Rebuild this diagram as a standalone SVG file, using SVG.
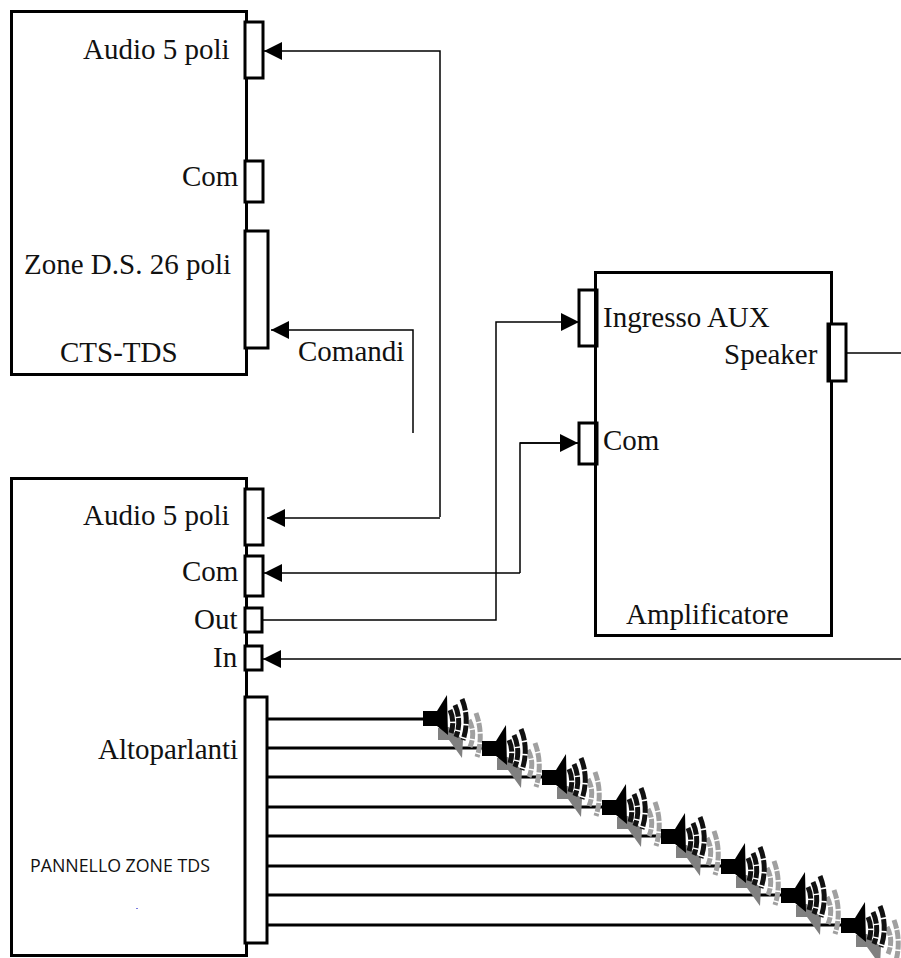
<svg xmlns="http://www.w3.org/2000/svg" xmlns:xlink="http://www.w3.org/1999/xlink" width="901" height="958" viewBox="0 0 901 958">
<style>
.box{fill:#fff;stroke:#000;stroke-width:3}
.edge{fill:none;stroke:#000;stroke-width:4}
.wire{fill:none;stroke:#000;stroke-width:1.5}
.thick{fill:none;stroke:#000;stroke-width:3}
text{font-family:"Liberation Serif","Times New Roman",serif;font-size:29px;fill:#111}
.sans{font-family:"Open Sans","Noto Sans",sans-serif;font-size:17.800px}
</style>
<defs>
<marker id="arr" markerUnits="userSpaceOnUse" markerWidth="18" markerHeight="18" refX="18" refY="9" orient="auto" viewBox="0 0 18 18"><path d="M18 9L0 0V18Z" fill="#000"/></marker>
<g id="spk">
<path d="M14 17V29H25L38 47L39 29L25 16Z" fill="#808080"/>
<g fill="none" stroke="#a0a0a0" stroke-width="5" stroke-dasharray="9 1.500">
<path d="M45 9Q52 22 46 36"/><path d="M52 2Q60 24 53 46"/>
</g>
<g fill="none" stroke="#111" stroke-width="5" stroke-dasharray="12 1.500">
<path d="M26 -1Q31 10 27 22"/><path d="M31 -6Q38 10 32 26"/><path d="M38 -12Q46 8 39 29"/>
</g>
<path d="M-1 0H13L23 -16L24 24L13 15H-1Z" fill="#000"/>
</g>
</defs>
<g id="connectors">
<path class="wire" d="M440 517V51H264" marker-end="url(#arr)"/>
<path class="wire" d="M440 518H267" marker-end="url(#arr)"/>
<path class="wire" d="M413 433V330H271" marker-end="url(#arr)"/>
<path class="wire" d="M263 620H496V322H579" marker-end="url(#arr)"/>
<path class="wire" d="M578 443H520V573"/>
<path class="wire" d="M520 443H578" marker-end="url(#arr)"/>
<path class="wire" d="M520 573H264" marker-end="url(#arr)"/>
<path class="wire" d="M847 353H901"/>
<path class="wire" d="M901 659H263" marker-end="url(#arr)"/>
<g class="thick">
<path d="M268 719H425"/><path d="M268 748H484"/><path d="M268 777H544"/><path d="M268 807H604"/><path d="M268 836H663"/><path d="M268 866H723"/><path d="M268 895H783"/><path d="M268 925H843"/>
</g>
</g>
<g id="cts-tds">
<rect class="box" x="11.500" y="11.500" width="235" height="363"/>
<rect class="box" x="245" y="22" width="18" height="56"/>
<rect class="box" x="245" y="161" width="18" height="41"/>
<rect class="box" x="245" y="231" width="23" height="117"/>
<text x="83" y="59">Audio 5 poli</text>
<text x="182" y="186">Com</text>
<text x="24" y="274">Zone D.S. 26 poli</text>
<text x="60" y="362">CTS-TDS</text>
<text x="298" y="361">Comandi</text>
</g>
<g id="pannello">
<rect class="box" x="11.500" y="478.500" width="235" height="477"/>
<rect class="box" x="245" y="489" width="18" height="56"/>
<rect class="box" x="245" y="556" width="18" height="40"/>
<rect class="box" x="245" y="608" width="17" height="24"/>
<rect class="box" x="245" y="646" width="17" height="24"/>
<rect class="box" x="245" y="697" width="22" height="246"/>
<text x="83" y="525">Audio 5 poli</text>
<text x="182" y="581">Com</text>
<text x="194" y="629">Out</text>
<text x="213" y="667">In</text>
<text x="98" y="759">Altoparlanti</text>
<text class="sans" x="30" y="872">PANNELLO ZONE TDS</text>
<rect x="136" y="908" width="2" height="1" fill="#7a7ae0"/>
</g>
<g id="amplificatore">
<rect class="box" x="595.500" y="272.500" width="236" height="363"/>
<rect class="box" x="579" y="290" width="18" height="56"/>
<path class="edge" d="M596 290V346"/>
<rect class="box" x="579" y="423" width="18" height="41"/>
<path class="edge" d="M596 423V464"/>
<rect class="box" x="828" y="324" width="18" height="57"/>
<path class="edge" d="M829 324V381"/>
<text x="603" y="327">Ingresso AUX</text>
<text x="724" y="364">Speaker</text>
<text x="603" y="450">Com</text>
<text x="626" y="624">Amplificatore</text>
</g>
<g id="speakers">
<use xlink:href="#spk" href="#spk" x="424" y="711"/>
<use xlink:href="#spk" href="#spk" x="483" y="741"/>
<use xlink:href="#spk" href="#spk" x="543" y="770"/>
<use xlink:href="#spk" href="#spk" x="603" y="800"/>
<use xlink:href="#spk" href="#spk" x="662" y="829"/>
<use xlink:href="#spk" href="#spk" x="722" y="859"/>
<use xlink:href="#spk" href="#spk" x="782" y="888"/>
<use xlink:href="#spk" href="#spk" x="842" y="918"/>
</g>
</svg>
